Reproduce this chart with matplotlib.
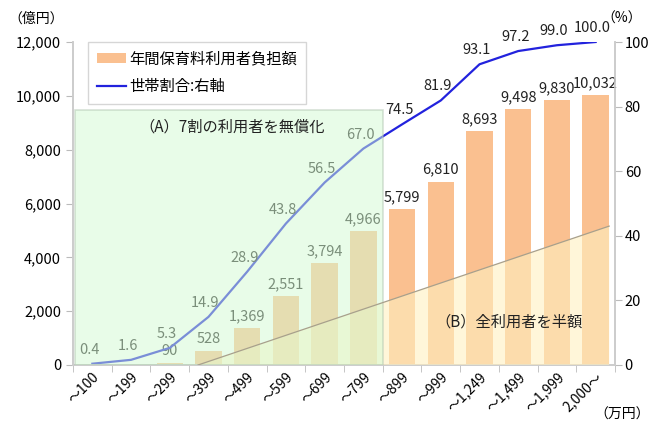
import matplotlib
matplotlib.use("Agg")
import matplotlib.pyplot as plt
import matplotlib.transforms as mtransforms
from matplotlib.patches import Rectangle, Polygon
from matplotlib.lines import Line2D
from matplotlib.patches import Patch
import numpy as np

plt.rcParams['font.family'] = ['Noto Sans CJK JP', 'DejaVu Sans']

categories = ["～100", "～199", "～299", "～399", "～499", "～599", "～699", "～799",
              "～899", "～999", "～1,249", "～1,499", "～1,999", "2,000～"]
burden = [0, 0, 90, 528, 1369, 2551, 3794, 4966, 5799, 6810, 8693, 9498, 9830, 10032]
share = [0.4, 1.6, 5.3, 14.9, 28.9, 43.8, 56.5, 67.0, 74.5, 81.9, 93.1, 97.2, 99.0, 100.0]

bar_name = "年間保育料利用者負担額"
line_name = "世帯割合:右軸"

BAR_COLOR = "#FAC090"
LINE_COLOR = "#2222DD"

fig = plt.figure(figsize=(6.49, 4.25), dpi=100)
ax = fig.add_axes([73/649, 60/425, 542/649, 323/425])
ax2 = ax.twinx()

x = np.arange(len(categories))
ax.bar(x, burden, width=0.68, color=BAR_COLOR, zorder=2)
for xi, v in zip(x, burden):
    if v > 0:
        ax.annotate(f"{v:,}", (xi, v), xytext=(0, 5), textcoords="offset pixels",
                    ha="center", va="bottom", fontsize=10.5, color="#222222")

ax.set_xlim(-0.5, len(categories) - 0.5)
ax.set_ylim(0, 12000)
ax.set_yticks(np.arange(0, 12001, 2000))
ax.set_yticklabels([f"{t:,}" for t in range(0, 12001, 2000)], fontsize=10.5)

ax2.plot(x, share, color=LINE_COLOR, lw=1.6, zorder=2)
for xi, v in zip(x, share):
    ax2.annotate(f"{v:.1f}", (xi, v), xytext=(-3, 7), textcoords="offset pixels",
                 ha="center", va="bottom", fontsize=10.5, color="#222222", zorder=3)
ax2.set_ylim(0, 100)
ax2.set_yticks(np.arange(0, 101, 20))
ax2.set_yticklabels([str(t) for t in range(0, 101, 20)], fontsize=10.5)

# x ticks
ax.set_xticks(x)
ax.set_xticklabels(categories, rotation=45, ha="right", rotation_mode="anchor", fontsize=10)
offset = mtransforms.ScaledTranslation(11/100, -7/100, fig.dpi_scale_trans)
for lab in ax.get_xticklabels():
    lab.set_transform(lab.get_transform() + offset)
ax.set_xticks(np.arange(-0.5, len(categories), 1), minor=True)
ax.tick_params(axis="x", which="major", length=0)
ax.tick_params(axis="x", which="minor", length=5, color="#BBBBBB")
ax.tick_params(axis="y", length=5, color="#BBBBBB")
ax2.tick_params(axis="y", length=5, color="#BBBBBB", pad=2)

for a in (ax, ax2):
    a.spines["top"].set_visible(False)
    for s in ("left", "right", "bottom"):
        a.spines[s].set_color("#CCCCCC")
        a.spines[s].set_linewidth(1.2)

# overlays (in left-axis data units), drawn on ax2 so they cover the line
green_x0, green_x1, green_top = -0.45, 7.5, 9470
tri_x0, tri_x1, tri_top = 2.73, 13.35, 5160
green = Rectangle((green_x0, 0), green_x1 - green_x0, green_top, transform=ax.transData,
                  facecolor="#D2FAD2", alpha=0.5, edgecolor="#B0C4B0", lw=1.2, zorder=5)
ax2.add_patch(green)
tri = Polygon([(tri_x0, 0), (tri_x1, tri_top), (tri_x1, 0)], closed=True, transform=ax.transData,
              facecolor="#FFF0C0", alpha=0.6, edgecolor="none", zorder=4)
ax2.add_patch(tri)
ax2.plot([tri_x0, tri_x1], [0, tri_top], transform=ax.transData, color="#A8A08C", lw=0.9, zorder=6)

ax2.text(3.6, 8850, "（A）7割の利用者を無償化", transform=ax.transData, ha="center", va="center",
         fontsize=11, color="#222222", zorder=7)
ax2.text(10.75, 1580, "（B）全利用者を半額", transform=ax.transData, ha="center", va="center",
         fontsize=11, color="#222222", zorder=7)

handles = [Patch(facecolor=BAR_COLOR, edgecolor="none"), Line2D([0], [0], color=LINE_COLOR, lw=1.6)]
leg = ax2.legend(handles, [bar_name, line_name], loc="upper left", bbox_to_anchor=(0.028, 1.0),
                 borderaxespad=0, fontsize=11, frameon=True, fancybox=False, edgecolor="#CCCCCC",
                 handlelength=1.9, handleheight=0.6, handletextpad=0.25, borderpad=0.55,
                 labelspacing=0.7)
leg.get_frame().set_linewidth(1.0)
leg.set_zorder(10)

fig.text(36/649, 1 - 19/425, "（億円）", ha="center", va="center", fontsize=10)
fig.text(622/649, 1 - 19/425, "（%）", ha="center", va="center", fontsize=10)
fig.text(622/649, 1 - 415/425, "（万円）", ha="center", va="center", fontsize=10)

fig.savefig("out.png", dpi=100)
